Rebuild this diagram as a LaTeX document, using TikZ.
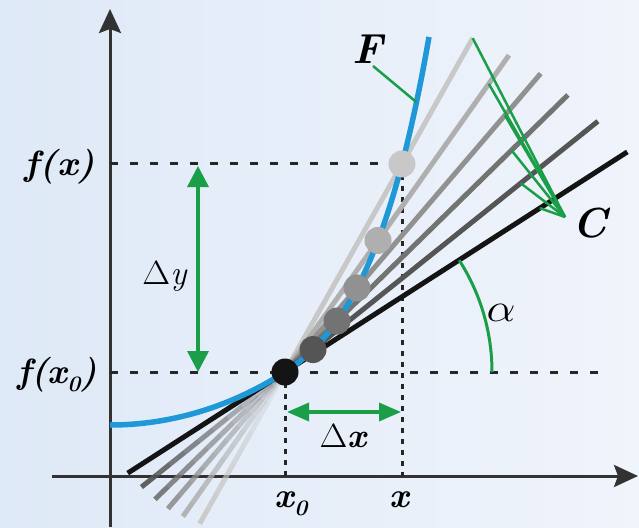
\documentclass[tikz,border=0pt]{standalone}
\usetikzlibrary{arrows.meta,calc}
\definecolor{bgA}{RGB}{222,233,247}
\definecolor{bgB}{RGB}{240,244,251}
\definecolor{fblue}{RGB}{30,152,214}
\definecolor{cgreen}{RGB}{26,158,72}
\definecolor{axisc}{RGB}{50,50,50}
\definecolor{gA}{RGB}{200,200,200}
\definecolor{gB}{RGB}{175,175,175}
\definecolor{gC}{RGB}{145,145,145}
\definecolor{gD}{RGB}{115,115,115}
\definecolor{gE}{RGB}{85,85,85}
\definecolor{gF}{RGB}{20,20,20}
\newcommand\fadeseg[2]{%
  \foreach \t in {0,1,...,9}{%
    \pgfmathsetmacro\ta{\t/10}%
    \pgfmathsetmacro\tb{(\t+1)/10}%
    \pgfmathsetmacro\op{0.2+0.08*\t}%
    \draw[#1, line width=5pt, opacity=\op] ($(P0)!\ta!(#2)$) -- ($(P0)!\tb!(#2)$);
  }}
\newcommand\bfit[1]{{\bfseries\itshape #1}}
\begin{document}
\begin{tikzpicture}[x=1pt,y=-1pt,
  axisline/.style={axisc, line width=3pt, -{Stealth[length=24pt,width=22pt,inset=4pt]}},
  dashline/.style={black!85, line width=3pt, dash pattern=on 8pt off 12pt},
  dotline/.style={black!85, line width=3pt, dash pattern=on 5pt off 6pt},
  fanline/.style={line width=5pt},
  garrow/.style={cgreen, line width=3.5pt, {Triangle[length=21pt,width=21pt]}-{Triangle[length=21pt,width=21pt]}},
  gline/.style={cgreen, line width=2.5pt},
  dotc/.style={circle, inner sep=0pt, minimum size=27pt},
  lab/.style={inner sep=0pt, font=\fontsize{35}{37}\selectfont},
  glab/.style={inner sep=0pt, font=\fontsize{34}{36}\selectfont}]
\useasboundingbox (0,0) rectangle (639,527);
\shade[left color=bgA, right color=bgB] (0,0) rectangle (639,527);

% key coordinates
\coordinate (O) at (110,476);
\coordinate (P0) at (285,372);
\coordinate (D1) at ({285+117},{372-42.3*(exp(0.0152*117)-1)});
\coordinate (D2) at ({285+93},{372-42.3*(exp(0.0152*93)-1)});
\coordinate (D3) at ({285+72},{372-42.3*(exp(0.0152*72)-1)});
\coordinate (D4) at ({285+52},{372-42.3*(exp(0.0152*52)-1)});
\coordinate (D5) at ({285+28},{372-42.3*(exp(0.0152*28)-1)});
\coordinate (T) at ({285+100},{372-64.3});
\coordinate (Fp) at ({285+131.5},{372-42.3*(exp(0.0152*131.5)-1)});

% axes
\coordinate (ybot) at (110,527);
\coordinate (ytop) at (110,9);
\coordinate (xl) at (52,476);
\coordinate (xr) at (638,476);
\draw[axisline] (ybot) -- (ytop);
\draw[axisline] (xl) -- (xr);

% dashed guides
\coordinate (H) at (602,372);
\draw[dashline] (O |- D1) -- (D1);
\draw[dashline] (O |- P0) -- (H);
\draw[dotline] (D1) -- (D1 |- O);
\draw[dotline] (P0) -- (P0 |- O);

% fan: lower faded parts
\coordinate (L1) at ($(P0)!-174pt!(D1)$);
\coordinate (L2) at ($(P0)!-177pt!(D2)$);
\coordinate (L3) at ($(P0)!-180pt!(D3)$);
\coordinate (L4) at ($(P0)!-182pt!(D4)$);
\coordinate (L5) at ($(P0)!-184pt!(D5)$);
\coordinate (L6) at ($(P0)!-187pt!(T)$);
\fadeseg{gA}{L1}
\fadeseg{gB}{L2}
\fadeseg{gC}{L3}
\fadeseg{gD}{L4}
\fadeseg{gE}{L5}
\draw[fanline, gF] (P0) -- (L6);

% fan: upper parts
\coordinate (U1) at ($(P0)!383pt!(D1)$);
\coordinate (U2) at ($(P0)!388pt!(D2)$);
\coordinate (U3) at ($(P0)!393pt!(D3)$);
\coordinate (U4) at ($(P0)!396pt!(D4)$);
\coordinate (U5) at ($(P0)!401pt!(D5)$);
\coordinate (U6) at ($(P0)!407pt!(T)$);
\draw[fanline, gA] (P0) -- (U1);
\draw[fanline, gB] (P0) -- (U2);
\draw[fanline, gC] (P0) -- (U3);
\draw[fanline, gD] (P0) -- (U4);
\draw[fanline, gE] (P0) -- (U5);
\draw[fanline, gF] (P0) -- (U6);

% curve F
\draw[fblue, line width=5.5pt] (110,425) .. controls (170,425) and (230,407.4) .. (P0)
  -- plot[domain=0:144, samples=60] ({285+\x},{372-42.3*(exp(0.0152*\x)-1)});

% points
\node[dotc, fill=gA] (d1) at (D1) {};
\node[dotc, fill=gB] (d2) at (D2) {};
\node[dotc, fill=gC] (d3) at (D3) {};
\node[dotc, fill=gD] (d4) at (D4) {};
\node[dotc, fill=gE] (d5) at (D5) {};
\node[dotc, fill=gF] (p0) at (P0) {};

% increments
\coordinate (dyt) at (198,166);
\coordinate (dyb) at (198,372);
\draw[garrow] (dyb) -- (dyt);
\coordinate (dxl) at (287,412);
\coordinate (dxr) at (401,412);
\draw[cgreen, line width=3.5pt, {Triangle[length=22pt,width=18pt]}-{Triangle[length=22pt,width=18pt]}] (dxl) -- (dxr);

% angle alpha
\draw[gline, line width=3pt] (492,372) arc[start angle=0, end angle=-32.7, radius=207];

% C lines
\coordinate (Cp) at (565,217);
\draw[gline] (Cp) -- (U1);
\draw[gline] (Cp) -- ($(P0)!353pt!(D2)$);
\draw[gline] (Cp) -- ($(P0)!338pt!(D3)$);
\draw[gline] (Cp) -- ($(P0)!317pt!(D4)$);
\draw[gline] (Cp) -- ($(P0)!302pt!(D5)$);
\draw[gline] (Cp) -- ($(P0)!303pt!(T)$);

% F leader
\coordinate (Fl) at (373,66);
\draw[gline] (Fl) -- (Fp);

% labels
\node[lab] (fx) at (60,167) {\scalebox{1.05}[1]{\bfit{f(x)}}};
\node[lab] (fx0) at (57,375) {\bfit{f(x\raisebox{-0.22em}{\fontsize{22}{22}\selectfont 0})}};
\node[lab] (lx0) at (291,504) {\bfit{x\raisebox{-0.22em}{\fontsize{22}{22}\selectfont 0}}};
\node[lab] (lx) at (399,500) {\bfit{x}};
\node[glab] (ldy) at (165,276) {\scalebox{1.45}[1.35]{$\Delta$}\textit{y}};
\node[glab] (ldx) at (343,436) {\scalebox{1.45}[1.35]{$\Delta$}\bfit{x}};
\node[glab] (lal) at (501,313) {\scalebox{1.85}[1.6]{$\alpha$}};
\node[lab, font=\fontsize{42}{44}\selectfont] (lF) at (368,49) {\bfit{F}};
\node[lab, font=\fontsize{42}{44}\selectfont] (lC) at (590,223) {\bfit{C}};
\end{tikzpicture}
\end{document}
